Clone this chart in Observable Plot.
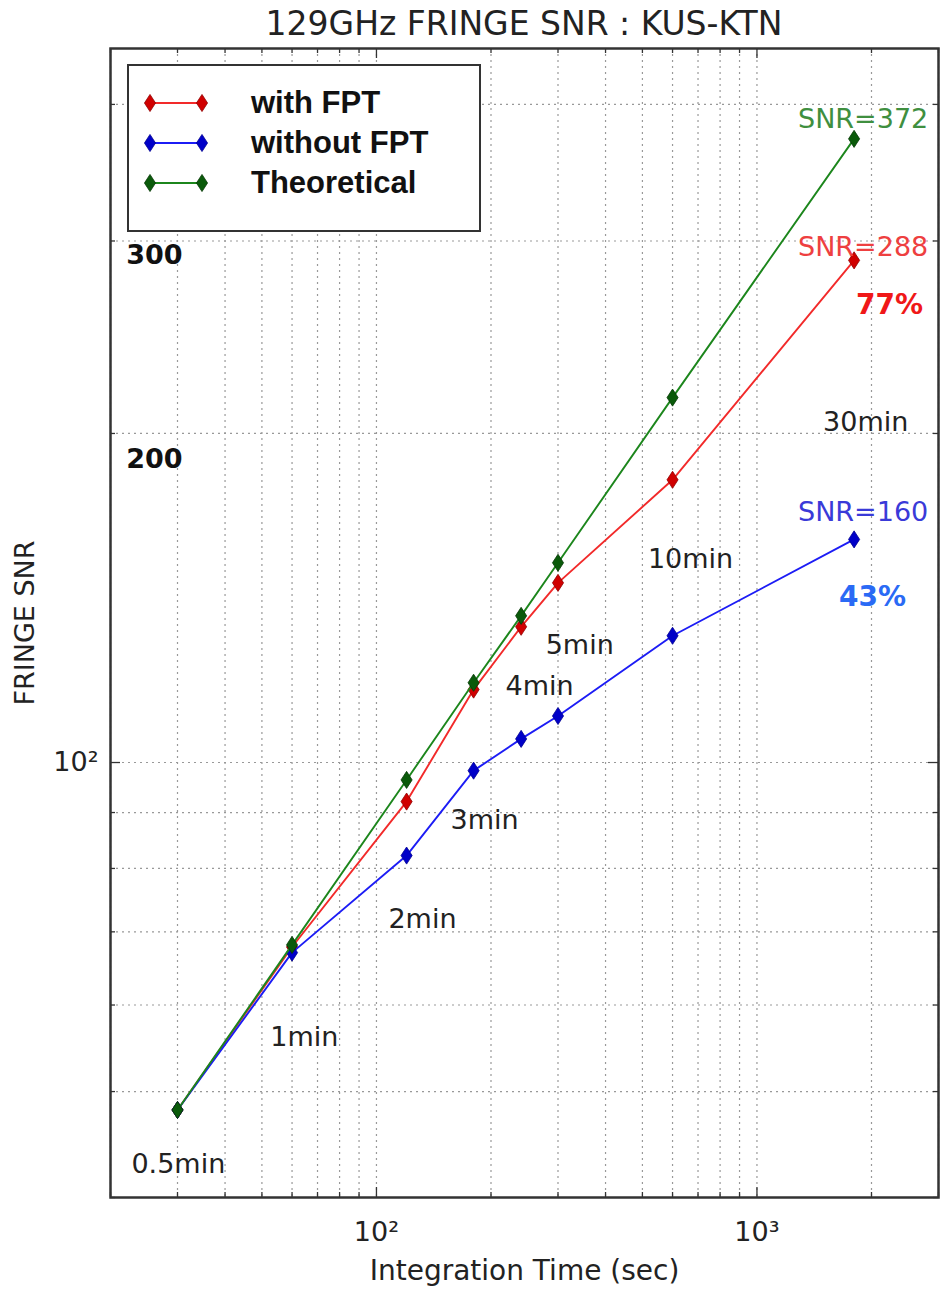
<!DOCTYPE html>
<html><head><meta charset="utf-8">
<script src="https://cdn.jsdelivr.net/npm/d3@7"></script>
<script src="https://cdn.jsdelivr.net/npm/@observablehq/plot@0.6"></script>
<style>
body{margin:0;background:#fff;}
#wrap{position:relative;width:940px;height:1290px;overflow:hidden;}
#title{position:absolute;left:110px;width:828px;top:4px;line-height:40px;text-align:center;font-family:"DejaVu Sans";font-size:33px;color:#222;white-space:nowrap;}
#legend{position:absolute;left:127px;top:64px;width:350px;height:147px;border:2px solid #333;background:#fff;padding-top:17px;box-sizing:content-box;}
#legend .row{height:40px;display:flex;align-items:center;}
#legend .lab{font-family:"Liberation Sans";font-weight:bold;font-size:31px;color:#111;}
</style></head><body>
<div id="wrap"><div id="chart"></div><div id="title">129GHz FRINGE SNR : KUS-KTN</div><div id="legend"></div></div>
<script>
// ---- data ----
const times = [30, 60, 120, 180, 240, 300, 600, 1800];            // Integration time (sec)
const withFPT = [48.1, 67.8, 92.1, 116.6, 133.1, 146.0, 181.4, 288];
const withoutFPT = [48.1, 67.0, 82.2, 98.3, 105.1, 110.3, 130.6, 160];
const theoretical = [48.1, 68.1, 96.4, 118.3, 136.2, 152.3, 215.7, 372];
const seriesNames = ["with FPT", "without FPT", "Theoretical"];

const xMajorTicks = [100, 1000];
const yMajorTicks = [100];
const xMinorTicks = [20, 30, 40, 50, 60, 70, 80, 90, 200, 300, 400, 500, 600, 700, 800, 900, 2000, 3000];
const yMinorTicks = [40, 50, 60, 70, 80, 90, 200, 300, 400];

// annotations (anchor in data units)
const minuteLabels = ["0.5min", "1min", "2min", "3min", "4min", "5min", "10min", "30min"];
const minuteLabelX = [22.7, 52.6, 107.5, 156.5, 218.5, 278.4, 516.8, 1492];
const minuteLabelY = [42.9, 56.1, 71.8, 88.6, 117.5, 127.9, 153.3, 204.6];
const snrLabels = ["SNR=372", "SNR=288", "SNR=160"];
const snrLabelX = [1282, 1282, 1282];
const snrLabelY = [387.3, 296.3, 169.3];
const pctLabels = ["77%", "43%"];
const pctLabelX = [1822, 1644];
const pctLabelY = [262.3, 141.8];
const levelLabels = ["300", "200"];
const levelLabelX = [22, 22];
const levelLabelY = [290.8, 189.2];

// ---- styles ----
const lineColors = ["#f22a2a", "#1c1cf5", "#1c861c"];
const markColors = ["#d00000", "#0000c8", "#0a5a0a"];
const markStroke = ["#900000", "#000090", "#053805"];
const snrColors = ["#3f8f3f", "#ee4040", "#3a3ad8"];
const pctColors = ["#f01818", "#2a6af5"];

// thin diamond marker (width/height = 0.65)
const thinDiamond = {
  draw(ctx, size) {
    const h = Math.sqrt(size / (2 * 0.65)), w = 0.65 * h;
    ctx.moveTo(0, -h); ctx.lineTo(w, 0); ctx.lineTo(0, h); ctx.lineTo(-w, 0); ctx.closePath();
  }
};
const markR = 5.5;

const W = 940, H = 1290, mL = 110, mR = 2, mT = 48, mB = 93;
const plotH = H - mT - mB, plotW = W - mL - mR;
const sup = {"2": "\u00b2", "3": "\u00b3"};
const fmt = d => "10" + sup[String(Math.round(Math.log10(d)))];

const series = [withFPT, withoutFPT, theoretical].map((vals, k) =>
  times.map((t, i) => ({t, v: vals[i], k})));

const tx = (labels, xs, ys) => labels.map((s, i) => ({s, x: xs[i], y: ys[i], i}));

const marks = [];
// grid
marks.push(Plot.ruleX([...xMinorTicks, ...xMajorTicks], {stroke: "#999", strokeWidth: 1.2, strokeDasharray: "2,4"}));
marks.push(Plot.ruleY([...yMinorTicks, ...yMajorTicks], {stroke: "#999", strokeWidth: 1.2, strokeDasharray: "2,4"}));
// inward ticks, four sides
for (const [ticks, len] of [[xMinorTicks, 5], [xMajorTicks, 10]]) {
  marks.push(Plot.tickX(ticks, {x: d => d, insetTop: plotH - len, stroke: "#333", strokeWidth: 1.3}));
  marks.push(Plot.tickX(ticks, {x: d => d, insetBottom: plotH - len, stroke: "#333", strokeWidth: 1.3}));
}
for (const [ticks, len] of [[yMinorTicks, 5], [yMajorTicks, 10]]) {
  marks.push(Plot.tickY(ticks, {y: d => d, insetRight: plotW - len, stroke: "#333", strokeWidth: 1.3}));
  marks.push(Plot.tickY(ticks, {y: d => d, insetLeft: plotW - len, stroke: "#333", strokeWidth: 1.3}));
}
// axes
marks.push(Plot.axisX(xMajorTicks, {tickFormat: fmt, tickSize: 0, tickPadding: 24, fontSize: 27, fill: "#222", label: null}));
marks.push(Plot.axisY(yMajorTicks, {tickFormat: fmt, tickSize: 0, tickPadding: 12, fontSize: 27, fill: "#222", label: null}));
marks.push(Plot.text(["Integration Time (sec)"], {frameAnchor: "bottom", dy: 74, textAnchor: "middle", lineAnchor: "middle", fontSize: 28, fill: "#222", text: d => d}));
marks.push(Plot.text(["FRINGE SNR"], {frameAnchor: "left", dx: -85, rotate: -90, textAnchor: "middle", lineAnchor: "middle", fontSize: 27, fill: "#222", text: d => d}));
// series
series.forEach((rows, k) => {
  marks.push(Plot.line(rows, {x: "t", y: "v", stroke: lineColors[k], strokeWidth: 1.9}));
  marks.push(Plot.dot(rows, {x: "t", y: "v", symbol: thinDiamond, r: markR, fill: markColors[k], stroke: markStroke[k], strokeWidth: 0.8}));
});
// annotations
marks.push(Plot.text(tx(minuteLabels, minuteLabelX, minuteLabelY), {x: "x", y: "y", text: "s", textAnchor: "start", fontSize: 27, fill: "#222"}));
marks.push(Plot.text(tx(snrLabels, snrLabelX, snrLabelY), {x: "x", y: "y", text: "s", textAnchor: "start", fontSize: 27, fill: d => snrColors[d.i]}));
marks.push(Plot.text(tx(pctLabels, pctLabelX, pctLabelY), {x: "x", y: "y", text: "s", textAnchor: "start", fontSize: 28, fontWeight: "bold", fill: d => pctColors[d.i]}));
marks.push(Plot.text(tx(levelLabels, levelLabelX, levelLabelY), {x: "x", y: "y", text: "s", textAnchor: "start", fontSize: 27, fontWeight: "bold", fill: "#111"}));
marks.push(Plot.frame({stroke: "#333", strokeWidth: 2.5}));

const chart = Plot.plot({
  width: W, height: H,
  marginLeft: mL, marginRight: mR, marginTop: mT, marginBottom: mB,
  style: {fontFamily: "DejaVu Sans", background: "#fff", overflow: "visible"},
  x: {type: "log", domain: [20, 3000]},
  y: {type: "log", domain: [40, 450]},
  marks
});
document.getElementById("chart").appendChild(chart);

// legend
const legend = d3.select("#legend");
seriesNames.forEach((name, k) => {
  const row = legend.append("div").attr("class", "row");
  const svg = row.append("svg").attr("width", 122).attr("height", 24);
  svg.append("line").attr("x1", 21).attr("x2", 73).attr("y1", 12).attr("y2", 12)
    .attr("stroke", lineColors[k]).attr("stroke-width", 1.9);
  for (const cx of [21, 73]) {
    svg.append("path").attr("transform", `translate(${cx},12)`)
      .attr("d", d3.symbol(thinDiamond, Math.PI * markR * markR)())
      .attr("fill", markColors[k]).attr("stroke", markStroke[k]).attr("stroke-width", 0.8);
  }
  row.append("span").attr("class", "lab").text(name);
});
</script>
</body></html>
